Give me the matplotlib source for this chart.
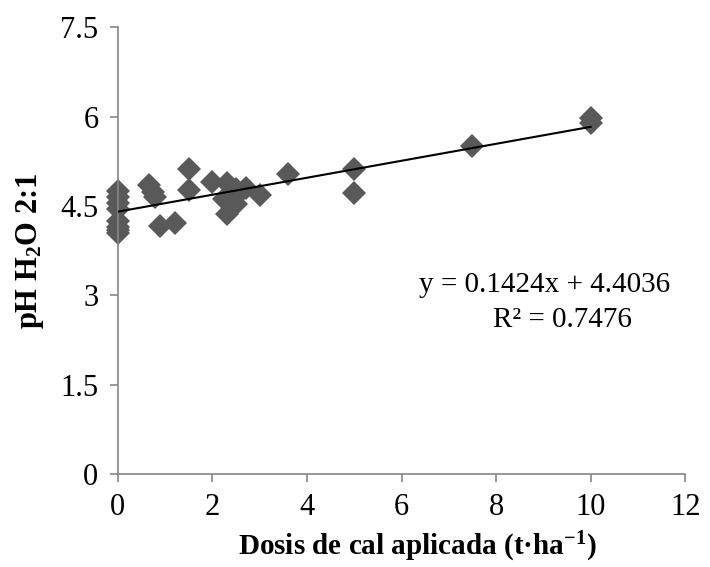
import matplotlib
matplotlib.use("Agg")
import matplotlib.pyplot as plt
import numpy as np

# Data
dose = [0, 0, 0, 0, 0, 0, 0, 0,
        0.65, 0.75, 0.78, 0.9, 1.2, 1.5, 1.5,
        2.0, 2.3, 2.25, 2.3, 2.5, 2.5, 2.55, 2.7, 3.0, 3.6,
        5.0, 5.0, 7.5, 10.0, 10.0]
ph = [4.75, 4.65, 4.55, 4.45, 4.25, 4.15, 4.1, 4.05,
      4.85, 4.74, 4.65, 4.17, 4.22, 5.12, 4.76,
      4.9, 4.88, 4.62, 4.37, 4.78, 4.54, 4.70, 4.8, 4.68, 5.03,
      5.12, 4.71, 5.5, 5.97, 5.9]
slope = 0.1424
intercept = 4.4036
r2 = 0.7476
xticks = [0, 2, 4, 6, 8, 10, 12]
yticks = [0, 1.5, 3, 4.5, 6, 7.5]
ytick_labels = ["0", "1.5", "3", "4.5", "6", "7.5"]

plt.rcParams['font.family'] = ['Liberation Serif', 'DejaVu Serif']
plt.rcParams['mathtext.fontset'] = 'custom'
plt.rcParams['mathtext.rm'] = 'Liberation Serif'
plt.rcParams['mathtext.it'] = 'Liberation Serif:italic'
plt.rcParams['mathtext.bf'] = 'Liberation Serif:bold'

fig = plt.figure(figsize=(7.1, 5.67), dpi=100)
ax = fig.add_axes([0.166, 0.164, 0.799, 0.788])

ax.plot(dose, ph, linestyle='none', marker='D', markersize=12.5,
        color='#595959', markeredgewidth=0, zorder=2, clip_on=False)

xl = np.array([0, 10])
ax.plot(xl, slope * xl + intercept, color='black', linewidth=1.5, zorder=3)

ax.set_xlim(0, 12)
ax.set_ylim(0, 7.5)
ax.set_xticks(xticks)
ax.set_yticks(yticks)
ax.set_yticklabels(ytick_labels)

for s in ['top', 'right']:
    ax.spines[s].set_visible(False)
for s in ['left', 'bottom']:
    ax.spines[s].set_color('#868686')
    ax.spines[s].set_linewidth(1.2)
ax.tick_params(axis='both', direction='out', length=6, width=1.2,
               color='#868686', labelsize=22, labelcolor='black')
ax.tick_params(axis='x', pad=8)
ax.tick_params(axis='y', pad=8)

ax.set_xlabel(r'Dosis de cal aplicada (t·ha$^{\mathbf{-1}}$)', fontsize=21,
              fontweight='bold', labelpad=2)
ax.xaxis.set_label_coords(0.527, -0.125)
ax.set_ylabel(r'pH H$_{\mathbf{2}}$O 2:1', fontsize=22, fontweight='bold',
              labelpad=10)

ax.text(0.753, 0.423, f"y = {slope}x + {intercept}",
        transform=ax.transAxes, ha='center', va='center', fontsize=21)
ax.text(0.783, 0.345, f"R² = {r2}",
        transform=ax.transAxes, ha='center', va='center', fontsize=21)

fig.savefig('out.png', dpi=100)
